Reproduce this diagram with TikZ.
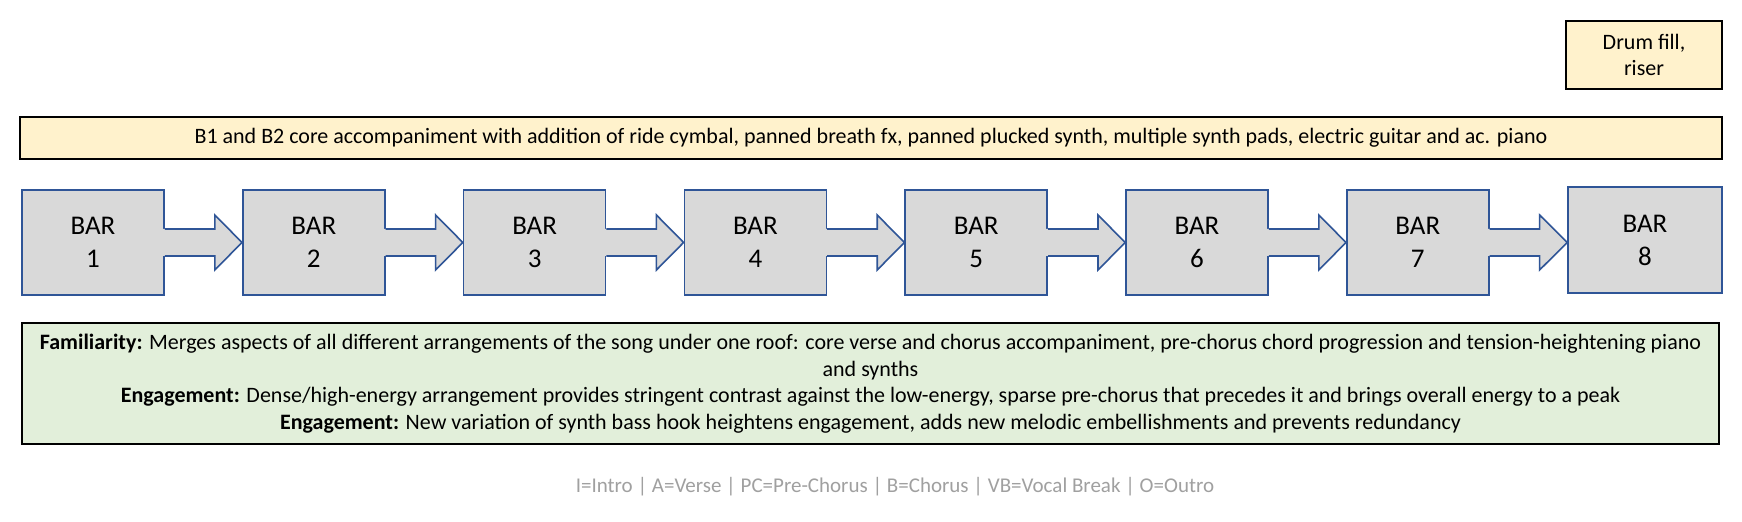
\documentclass[tikz,border=0pt]{standalone}
\usepackage{fontspec}
\setmainfont{Carlito}
\usetikzlibrary{calc}
\definecolor{barblue}{HTML}{2F5597}
\definecolor{bargray}{HTML}{D9D9D9}
\definecolor{noteyellow}{HTML}{FFF2CC}
\definecolor{notegreen}{HTML}{E2EFDA}
\definecolor{legendgray}{HTML}{A0A0A0}
\tikzset{
  barbox/.style={draw=barblue, fill=bargray, line width=0.8pt, minimum width=71pt, minimum height=52.5pt, inner sep=0pt, align=center, font=\fontsize{13.5}{16.5}\selectfont},
  notebox/.style={draw=black, line width=1.1pt, inner sep=0pt, align=center, font=\fontsize{11}{13.25}\selectfont},
}
\newcommand\blockarrow[2]{%
  \fill[bargray] ($(#1.east)+(-3,-13.5)$) -- ($(#1.east)+(50,-13.5)$) -- ($(#1.east)+(50,-27.5)$) -- (#1.east -| #2.west) -- ($(#1.east)+(50,27.5)$) -- ($(#1.east)+(50,13.5)$) -- ($(#1.east)+(-3,13.5)$) -- cycle;
  \draw[barblue, line width=0.8pt, line join=miter] ($(#1.east)+(0,-13.5)$) -- ($(#1.east)+(50,-13.5)$) -- ($(#1.east)+(50,-27.5)$) -- (#1.east -| #2.west) -- ($(#1.east)+(50,27.5)$) -- ($(#1.east)+(50,13.5)$) -- ($(#1.east)+(0,13.5)$);
}
\begin{document}
\begin{tikzpicture}[x=0.5pt,y=-0.5pt]
\useasboundingbox[fill=white] (0,0) rectangle (1742,522);
% drum fill
\node[notebox, fill=noteyellow, minimum width=78pt, minimum height=34pt] (drum) at (1644,55) {Drum fill,\\riser};
% top accompaniment box
\node[notebox, fill=noteyellow, minimum width=851pt, minimum height=21pt] (acc) at (871,138) {B1 and B2 core accompaniment with addition of ride cymbal, panned breath fx, panned plucked synth, multiple synth pads, electric guitar and ac. piano};
% bars
\foreach \i in {1,...,7} {
  \node[barbox] (b\i) at ({93+220.8*(\i-1)},242.5) {BAR\\\i};
}
\node[barbox, minimum width=77pt, minimum height=53pt] (b8) at (1645,240) {BAR\\8};
\foreach \i/\j in {1/2,2/3,3/4,4/5,5/6,6/7,7/8} {
  \blockarrow{b\i}{b\j}
}
% green description
\node[notebox, fill=notegreen, minimum width=848.5pt, minimum height=60.5pt] (desc) at (870.5,383.5) {\textbf{Familiarity:} Merges aspects of all different arrangements of the song under one roof: core verse and chorus accompaniment, pre-chorus chord progression and tension-heightening piano\\and synths\\\textbf{Engagement:} Dense/high-energy arrangement provides stringent contrast against the low-energy, sparse pre-chorus that precedes it and brings overall energy to a peak\\\textbf{Engagement:} New variation of synth bass hook heightens engagement, adds new melodic embellishments and prevents redundancy};
% legend
\node[text=legendgray, font=\fontsize{10.5}{12.5}\selectfont, inner sep=0pt] (legend) at (895,487) {I=Intro | A=Verse | PC=Pre-Chorus | B=Chorus | VB=Vocal Break | O=Outro};
\end{tikzpicture}
\end{document}
